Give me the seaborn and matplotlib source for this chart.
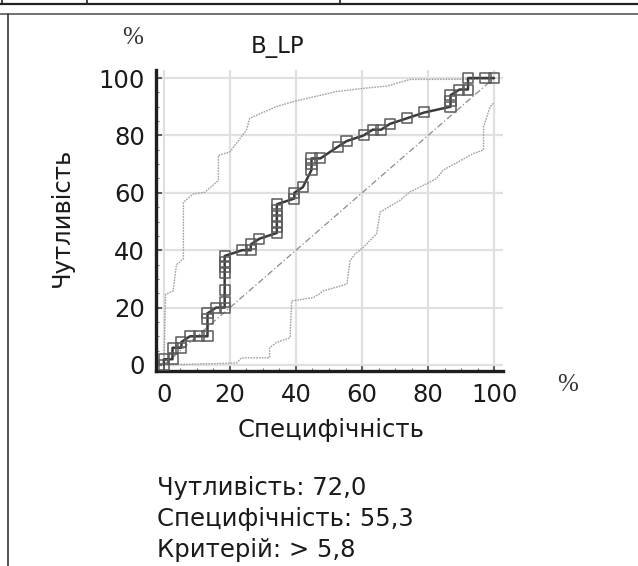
import matplotlib
matplotlib.use("Agg")
import matplotlib.pyplot as plt
from matplotlib.lines import Line2D
from matplotlib.ticker import MultipleLocator
import seaborn as sns

# ---- data ----
roc_x = [0, 0, 2.6, 2.6, 5.3, 5.3, 7.9, 10.5, 13.2, 13.2, 13.2, 15.8, 18.4, 18.4, 18.4, 18.4,
         18.4, 18.4, 18.4, 23.7, 26.3, 26.3, 28.9, 34.2, 34.2, 34.2, 34.2, 34.2, 34.2, 39.5,
         39.5, 42.1, 44.7, 44.7, 44.7, 47.4, 52.6, 55.3, 60.5, 63.2, 65.8, 68.4, 73.7, 78.9,
         86.8, 86.8, 86.8, 89.5, 92.1, 92.1, 97.4, 100]
roc_y = [0, 2, 2, 6, 6, 8, 10, 10, 10, 16, 18, 20, 20, 22, 26, 32,
         34, 36, 38, 40, 40, 42, 44, 46, 48, 50, 52, 54, 56, 58,
         60, 62, 68, 70, 72, 72, 76, 78, 80, 82, 82, 84, 86, 88,
         90, 92, 94, 96, 96, 100, 100, 100]

upper_x = [0, 0.5, 2.8, 3.8, 5.9, 5.9, 8.9, 12.4, 16.5, 16.5, 20, 25, 26, 34, 39.2, 52.3,
           60.4, 67.5, 74.5, 100]
upper_y = [0, 24.6, 25.8, 35, 37, 56.7, 59.6, 60.2, 64.3, 73, 74.3, 81.9, 86, 90, 91.8, 95.3,
           96.4, 97.2, 99.5, 99.6]

lower_x = [0, 22, 23.5, 32, 32, 34, 38.2, 38.7, 45.3, 48.3, 55.4, 56.4, 57.9, 60.4, 64.4,
           65.5, 71.5, 74.5, 79.6, 82.6, 84.6, 93.7, 96.8, 96.8, 98.8, 99.8]
lower_y = [0, 0.7, 2.5, 2.5, 6, 7.8, 9.5, 22.3, 23.5, 25.8, 28.2, 36.3, 38.7, 41, 45.7,
           53.3, 57.4, 60.3, 63.2, 65, 67.9, 73.7, 74.9, 83, 90, 91.2]

diag_x = [0, 100]
diag_y = [0, 100]

tick_values = [0, 20, 40, 60, 80, 100]
title = "B_LP"
x_label = "Специфічність"
y_label = "Чутливість"
info_lines = ["Чутливість: 72,0", "Специфічність: 55,3", "Критерій: > 5,8"]

# ---- style ----
sns.set_style("white")
plt.rcParams["font.family"] = ["DejaVu Sans"]
FS = 17.5

W, H = 638, 566
fig = plt.figure(figsize=(W / 100, H / 100), dpi=100)
fig.patch.set_facecolor("white")

L, R, T, B = 156, 503, 70, 371
ax = fig.add_axes([L / W, 1 - B / H, (R - L) / W, (B - T) / H])

# grid
ax.set_xticks(tick_values)
ax.set_yticks(tick_values)
ax.xaxis.set_minor_locator(MultipleLocator(5))
ax.yaxis.set_minor_locator(MultipleLocator(5))
ax.grid(True, which="major", color="#e0e0e0", lw=1.6, zorder=0)
ax.set_axisbelow(True)

# diagonal
sns.lineplot(x=diag_x, y=diag_y, ax=ax, color="#8a8a8a", lw=0.9,
             linestyle=(0, (5, 2, 1, 2)), sort=False, estimator=None)
# confidence bands
sns.lineplot(x=upper_x, y=upper_y, ax=ax, color="#a0a0a0", lw=1.0,
             linestyle=(0, (1.2, 0.8)), sort=False, estimator=None)
sns.lineplot(x=lower_x, y=lower_y, ax=ax, color="#a0a0a0", lw=1.0,
             linestyle=(0, (1.2, 0.8)), sort=False, estimator=None)
# ROC curve
sns.lineplot(x=roc_x, y=roc_y, ax=ax, color="#3a3a3a", lw=1.8,
             sort=False, estimator=None, zorder=3)
sns.scatterplot(x=roc_x, y=roc_y, ax=ax, marker="s", s=52, facecolor="none",
                edgecolor="#5a5a5a", linewidth=1.1, zorder=4)

ax.set_xlim(-2.4, 102.7)
ax.set_ylim(-2.1, 102.8)

for s in ["top", "right"]:
    ax.spines[s].set_visible(False)
for s in ["left", "bottom"]:
    ax.spines[s].set_linewidth(2.4)
    ax.spines[s].set_color("#1e1e1e")

ax.tick_params(which="major", direction="in", length=4, width=1.2, color="#444",
               labelsize=FS, labelcolor="#1a1a1a", left=True, bottom=True)
ax.tick_params(axis="y", which="major", pad=8)
ax.tick_params(axis="x", which="major", pad=9)
ax.tick_params(which="minor", direction="in", length=2.5, width=0.8, color="#777",
               left=True, bottom=True)

ax.set_xlabel("")
ax.set_ylabel("")

# labels in figure pixel coordinates
def fx(px):
    return px / W

def fy(py):
    return 1 - py / H

fig.text(fx(278), fy(47), title, ha="center", va="center", fontsize=FS - 1, color="#1a1a1a")
fig.text(fx(331), fy(430), x_label, ha="center", va="center", fontsize=FS, color="#1a1a1a")
fig.text(fx(62), fy(217), y_label, ha="center", va="center", rotation=90,
         fontsize=FS, color="#1a1a1a")
fig.text(fx(133), fy(38), "%", ha="center", va="center", fontsize=18,
         family="Liberation Serif", color="#333")
fig.text(fx(568), fy(385), "%", ha="center", va="center", fontsize=18,
         family="Liberation Serif", color="#333")

for i, line in enumerate(info_lines):
    fig.text(fx(157), fy(495 + 31 * i), line, ha="left", va="baseline",
             fontsize=FS, color="#1a1a1a")

# page frame fragments
fig.add_artist(Line2D([0, 1], [fy(3.5), fy(3.5)], color="#222", lw=1.6))
fig.add_artist(Line2D([0, 1], [fy(14), fy(14)], color="#666", lw=1.3))
fig.add_artist(Line2D([fx(7.5), fx(7.5)], [fy(14), 0], color="#444", lw=1.3))
for xv in [2, 87, 340]:
    fig.add_artist(Line2D([fx(xv), fx(xv)], [1, fy(3.5)], color="#222", lw=1.2))

fig.savefig("out.png", dpi=100, facecolor="white")
